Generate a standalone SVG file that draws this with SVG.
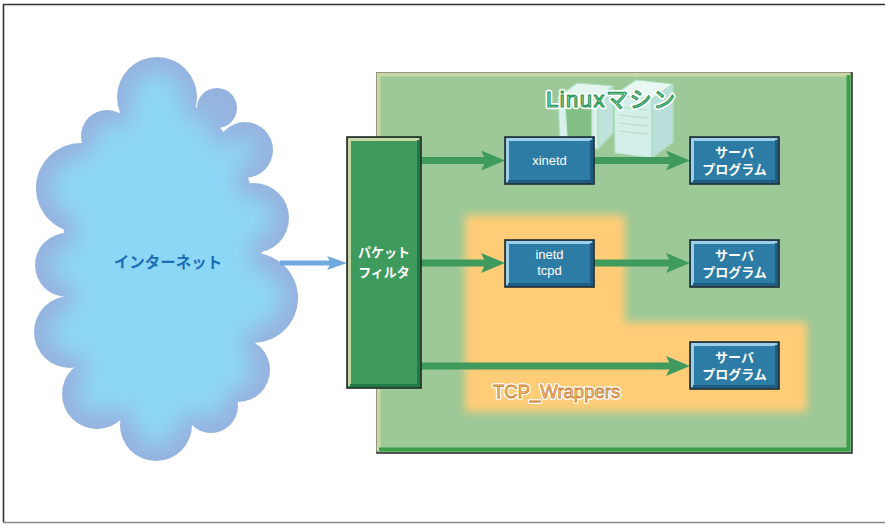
<svg xmlns="http://www.w3.org/2000/svg" width="885" height="525" viewBox="0 0 885 525">
  <style>
    .jp { font-family: "Liberation Sans", "Noto Sans CJK JP", sans-serif; }
    .boxText { fill: #ffffff; font-size: 13px; text-anchor: middle; }
    .bold { font-weight: bold; }
    .blueBox { fill: #2c7ca6; stroke: #1e2a30; stroke-width: 1.6; }
    .hiLite { fill: none; stroke: #9dd0e8; stroke-width: 3; }
    .shade { fill: none; stroke: #1f5c82; stroke-width: 3; }
    .flow { stroke: #3f9a5e; stroke-width: 7; fill: none; }
    .inflow { stroke: #6fa9dd; stroke-width: 5; fill: none; }
  </style>
  <defs>
    <marker id="greenHead" markerUnits="userSpaceOnUse" markerWidth="24" markerHeight="20" refX="6" refY="10" orient="auto">
      <path d="M0,0 L24,10 L0,20 L5,10 Z" fill="#3f9a5e"/>
    </marker>
    <marker id="blueHead" markerUnits="userSpaceOnUse" markerWidth="20" markerHeight="14" refX="6" refY="7" orient="auto">
      <path d="M0,0 L20,7 L0,14 L4,7 Z" fill="#6fa9dd"/>
    </marker>
    <!-- inner glow: pale sky centre fading into a lavender-blue rim -->
    <filter id="cloudGlow" x="-10%" y="-10%" width="120%" height="120%">
      <feMorphology in="SourceAlpha" operator="erode" radius="12" result="core"/>
      <feGaussianBlur in="core" stdDeviation="11" result="soft"/>
      <feFlood flood-color="#8dd7f6"/>
      <feComposite in2="soft" operator="in" result="lightRaw"/>
      <feComposite in="lightRaw" in2="SourceAlpha" operator="in" result="light"/>
      <feMerge>
        <feMergeNode in="SourceGraphic"/>
        <feMergeNode in="light"/>
      </feMerge>
    </filter>
    <filter id="softEdge" x="-10%" y="-10%" width="120%" height="120%">
      <feGaussianBlur stdDeviation="4"/>
    </filter>
  </defs>

  <!-- page frame -->
  <path d="M3.5,522 V4.5 H885" fill="none" stroke="#333333" stroke-width="1.6"/>
  <line x1="3" y1="522.5" x2="885" y2="522.5" stroke="#8a8a8a" stroke-width="1.6"/>

  <!-- cloud: the Internet -->
  <g id="internet">
    <g fill="#96b2df" filter="url(#cloudGlow)">
      <ellipse cx="162" cy="262" rx="100" ry="165"/>
      <circle cx="157" cy="97" r="40"/>
      <circle cx="217" cy="108" r="20"/>
      <circle cx="107" cy="136" r="26"/>
      <circle cx="245" cy="150" r="28"/>
      <circle cx="81" cy="188" r="45"/>
      <circle cx="254" cy="218" r="35"/>
      <circle cx="67" cy="265" r="32"/>
      <circle cx="253" cy="298" r="45"/>
      <circle cx="70" cy="332" r="36"/>
      <circle cx="238" cy="370" r="32"/>
      <circle cx="97" cy="394" r="35"/>
      <circle cx="156" cy="425" r="36"/>
      <circle cx="211" cy="406" r="27"/>
    </g>
    <text x="168" y="268" class="jp bold" font-size="15.5" fill="#1a6db5" text-anchor="middle">インターネット</text>
  </g>

  <!-- Linux machine frame -->
  <g id="linux-machine">
    <rect x="377" y="73" width="475" height="380" fill="#9cc997" stroke="#333333" stroke-width="1.6"/>
    <path d="M378.5,451.5 V74.5 H850.5" fill="none" stroke="#c9d8a6" stroke-width="4"/>
    <path d="M848.5,75 V449.5 H379" fill="none" stroke="#3aa14a" stroke-width="4"/>

    <!-- TCP_Wrappers area -->
    <path d="M465,215 H625 V322 H807 V412 H465 Z" fill="#ffcc77" filter="url(#softEdge)"/>

    <!-- computer icon: monitor and tower -->
    <g stroke="#aee0c0" stroke-width="1.2" stroke-linejoin="round">
      <polygon points="558,97 577,83 613,86 598,100" fill="#e2f5ef"/>
      <polygon points="558,97 598,100 598,149 560,144" fill="#d8f0ea"/>
      <polygon points="565,105 592,107 592,140 567,136" fill="#84bf86" stroke="#c4e8dc"/>
      <polygon points="598,100 613,86 613,133 598,149" fill="#bfe3dc"/>
      <polygon points="614,95 636,80 673,84 652,99" fill="#eaf8f3"/>
      <polygon points="614,95 652,99 652,158 615,153" fill="#d4efe9"/>
      <polygon points="652,99 673,84 673,142 652,158" fill="#b8dfd9"/>
      <line x1="619" y1="107" x2="647" y2="110"/>
      <line x1="619" y1="115" x2="647" y2="118"/>
      <line x1="619" y1="123" x2="647" y2="126"/>
      <line x1="619" y1="131" x2="647" y2="134"/>
    </g>
    <text x="546" y="107" class="jp" font-size="22" letter-spacing="1.5" fill="#ffffff" stroke="#ffffff" stroke-width="4.5" stroke-linejoin="round">Linuxマシン</text>
    <text x="546" y="107" class="jp" font-size="22" letter-spacing="1.5" fill="#b4e4c4" stroke="#2a9658" stroke-width="1.2" stroke-linejoin="round">Linuxマシン</text>

    <text x="493" y="398" font-family="Liberation Sans, sans-serif" font-size="18.5" fill="#ffffff" stroke="#ffffff" stroke-width="3.5" stroke-linejoin="round">TCP_Wrappers</text>
    <text x="493" y="398" font-family="Liberation Sans, sans-serif" font-size="18.5" fill="#fdc978" stroke="#c9843e" stroke-width="0.8">TCP_Wrappers</text>
  </g>

  <!-- connectors -->
  <g id="connectors">
    <line class="inflow" x1="280" y1="263" x2="333" y2="263" marker-end="url(#blueHead)"/>
    <line class="flow" x1="421" y1="160.5" x2="487" y2="160.5" marker-end="url(#greenHead)"/>
    <line class="flow" x1="594" y1="160.5" x2="672" y2="160.5" marker-end="url(#greenHead)"/>
    <line class="flow" x1="421" y1="263" x2="487" y2="263" marker-end="url(#greenHead)"/>
    <line class="flow" x1="594" y1="263" x2="672" y2="263" marker-end="url(#greenHead)"/>
    <line class="flow" x1="421" y1="366" x2="672" y2="366" marker-end="url(#greenHead)"/>
  </g>

  <!-- packet filter -->
  <g id="packet-filter">
    <rect x="347" y="137" width="74" height="251" fill="#3f9a5e" stroke="#1e2a22" stroke-width="1.6"/>
    <path d="M349.5,386 V139.5 H419" fill="none" stroke="#c6d6a4" stroke-width="3"/>
    <path d="M418.5,140 V385.5 H350" fill="none" stroke="#1f7a45" stroke-width="3"/>
    <text x="384" y="257" class="jp bold boxText">パケット</text>
    <text x="384" y="277" class="jp bold boxText">フィルタ</text>
  </g>

  <!-- xinetd -->
  <g id="xinetd">
    <rect class="blueBox" x="505" y="137" width="89" height="47"/>
    <path class="hiLite" d="M507.5,182 V139.5 H592"/>
    <path class="shade" d="M591.5,140 V181.5 H508"/>
    <text x="549.5" y="165" class="jp boxText">xinetd</text>
  </g>

  <!-- inetd + tcpd -->
  <g id="inetd-tcpd">
    <rect class="blueBox" x="505" y="240" width="89" height="47"/>
    <path class="hiLite" d="M507.5,285 V242.5 H592"/>
    <path class="shade" d="M591.5,243 V284.5 H508"/>
    <text x="549.5" y="259" class="jp boxText">inetd</text>
    <text x="549.5" y="275" class="jp boxText">tcpd</text>
  </g>

  <!-- server programs -->
  <g id="server-1">
    <rect class="blueBox" x="690" y="137" width="89" height="47"/>
    <path class="hiLite" d="M692.5,182 V139.5 H777"/>
    <path class="shade" d="M776.5,140 V181.5 H693"/>
    <text x="734.5" y="157" class="jp bold boxText">サーバ</text>
    <text x="734.5" y="174" class="jp bold boxText">プログラム</text>
  </g>
  <g id="server-2">
    <rect class="blueBox" x="690" y="240" width="89" height="47"/>
    <path class="hiLite" d="M692.5,285 V242.5 H777"/>
    <path class="shade" d="M776.5,243 V284.5 H693"/>
    <text x="734.5" y="260" class="jp bold boxText">サーバ</text>
    <text x="734.5" y="277" class="jp bold boxText">プログラム</text>
  </g>
  <g id="server-3">
    <rect class="blueBox" x="690" y="342" width="89" height="47"/>
    <path class="hiLite" d="M692.5,387 V344.5 H777"/>
    <path class="shade" d="M776.5,345 V386.5 H693"/>
    <text x="734.5" y="362" class="jp bold boxText">サーバ</text>
    <text x="734.5" y="379" class="jp bold boxText">プログラム</text>
  </g>
</svg>
